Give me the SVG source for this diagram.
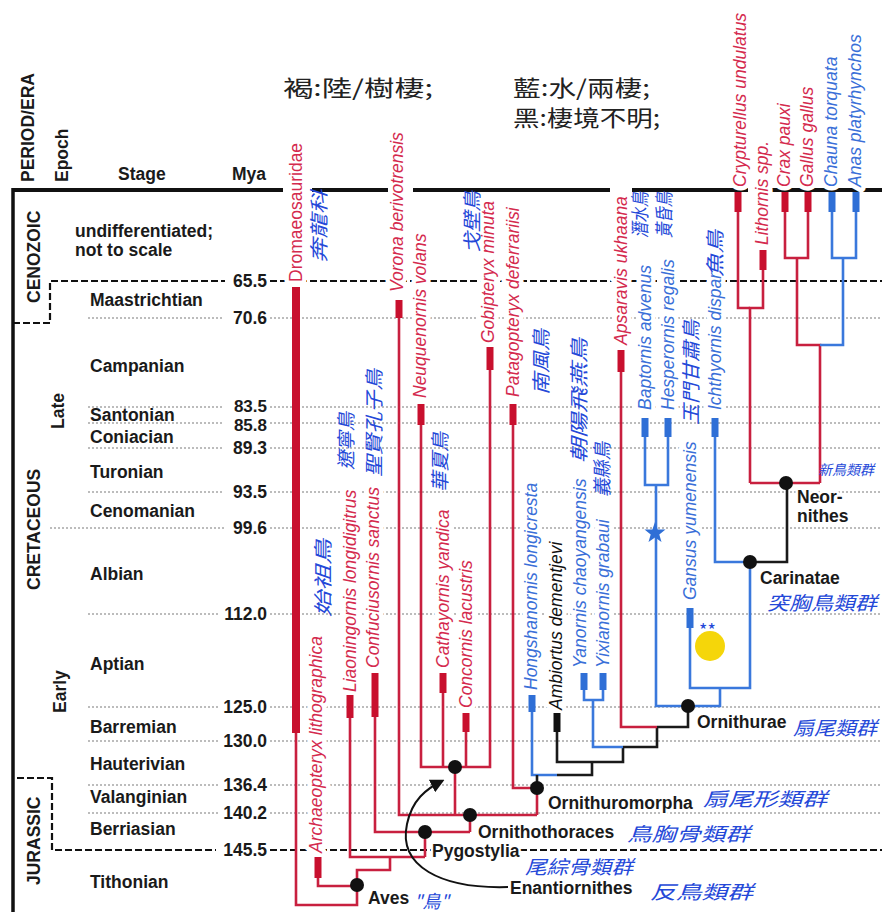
<svg xmlns="http://www.w3.org/2000/svg" width="882" height="912" viewBox="0 0 882 912">
<style>
.ax{font-family:"Liberation Sans",Arial,sans-serif;font-weight:bold;font-size:17.5px;fill:#1a1a1a}
.my{text-anchor:end}
.grid{stroke:#7a7a7a;stroke-width:1.2;stroke-dasharray:2 2;fill:none}
.bnd{stroke:#111;stroke-width:2.2;stroke-dasharray:7 3;fill:none}
.tx{font-family:"Liberation Sans",Arial,sans-serif;font-style:italic;font-size:17.5px;paint-order:stroke;stroke:#fff;stroke-width:9;stroke-linejoin:round}
.up{font-style:normal}
.r{fill:#d42a4e}
.b{fill:#3a6fd8}
.k{fill:#111}
.cn{font-family:"Noto Sans CJK TC","Noto Sans CJK SC",sans-serif;fill:#2448d8;font-size:19px;font-style:italic}
.hw{font-family:"Noto Sans CJK TC","Noto Sans CJK SC",sans-serif;fill:#222;font-size:22px}
.cl{font-family:"Liberation Sans",Arial,sans-serif;font-weight:bold;font-size:17.5px;fill:#1a1a1a;paint-order:stroke;stroke:#fff;stroke-width:5;stroke-linejoin:round}
.rl{stroke:#c8203f;stroke-width:2.6;fill:none}
.bl{stroke:#3a78dc;stroke-width:2.6;fill:none}
.kl{stroke:#1a1a1a;stroke-width:2.6;fill:none}
.rb{stroke:#c8102e;stroke-width:7}
.bb{stroke:#2f6fd6;stroke-width:7}
.kb{stroke:#111;stroke-width:7}
.nd{fill:#111}
</style>
<defs>
<marker id="ah" viewBox="0 0 10 10" refX="8" refY="5" markerWidth="7" markerHeight="7" orient="auto"><path d="M0,0 L10,5 L0,10 z" fill="#111"/></marker>
</defs>

<g id="timescale">
<line x1="13" y1="190" x2="283" y2="190" stroke="#111" stroke-width="4"/>
<line x1="312" y1="190" x2="388" y2="190" stroke="#111" stroke-width="4"/>
<line x1="413" y1="190" x2="610" y2="190" stroke="#111" stroke-width="4"/>
<line x1="632" y1="190" x2="748" y2="190" stroke="#111" stroke-width="4"/>
<line x1="772" y1="190" x2="882" y2="190" stroke="#111" stroke-width="4"/>
<line x1="13" y1="188" x2="13" y2="912" stroke="#111" stroke-width="3.5"/>
<path class="bnd" d="M13 323 H50 V281 H225"/>
<path class="bnd" d="M270 281 H882"/>
<path class="bnd" d="M17 778 H52 V850 H216"/>
<path class="bnd" d="M270 850 H882"/>
<path class="grid" d="M88 318H224 M270 318H882 M88 407H224 M270 407H882 M88 423H224 M270 423H882 M88 448H224 M270 448H882 M88 492H224 M270 492H882 M50 528H224 M270 528H882 M88 614H218 M270 614H882 M88 707H218 M270 707H882 M88 741H218 M270 741H882 M88 785H218 M270 785H882 M88 813H218 M270 813H882"/>
<text class="ax" transform="translate(34,182) rotate(-90)">PERIOD/ERA</text>
<text class="ax" transform="translate(68,182) rotate(-90)">Epoch</text>
<text class="ax" x="118" y="180">Stage</text>
<text class="ax" x="232" y="180">Mya</text>
<text class="ax" transform="translate(40,303) rotate(-90)">CENOZOIC</text>
<text class="ax" transform="translate(40,590) rotate(-90)">CRETACEOUS</text>
<text class="ax" transform="translate(40,885) rotate(-90)">JURASSIC</text>
<text class="ax" transform="translate(64,429) rotate(-90)">Late</text>
<text class="ax" transform="translate(66,713) rotate(-90)">Early</text>
<text class="ax" x="75" y="237">undifferentiated;</text>
<text class="ax" x="75" y="256">not to scale</text>
<text class="ax" x="90" y="306">Maastrichtian</text>
<text class="ax" x="90" y="372">Campanian</text>
<text class="ax" x="90" y="421">Santonian</text>
<text class="ax" x="90" y="443">Coniacian</text>
<text class="ax" x="90" y="478">Turonian</text>
<text class="ax" x="90" y="517">Cenomanian</text>
<text class="ax" x="90" y="580">Albian</text>
<text class="ax" x="90" y="670">Aptian</text>
<text class="ax" x="90" y="733">Barremian</text>
<text class="ax" x="90" y="770">Hauterivian</text>
<text class="ax" x="90" y="803">Valanginian</text>
<text class="ax" x="90" y="835">Berriasian</text>
<text class="ax" x="90" y="888">Tithonian</text>
<text class="ax my" x="267" y="287">65.5</text>
<text class="ax my" x="267" y="324">70.6</text>
<text class="ax my" x="267" y="412" style="font-size:17px">83.5</text>
<text class="ax my" x="267" y="431" style="font-size:17px">85.8</text>
<text class="ax my" x="267" y="454">89.3</text>
<text class="ax my" x="267" y="498">93.5</text>
<text class="ax my" x="267" y="534">99.6</text>
<text class="ax my" x="267" y="620">112.0</text>
<text class="ax my" x="267" y="713">125.0</text>
<text class="ax my" x="267" y="747">130.0</text>
<text class="ax my" x="267" y="791">136.4</text>
<text class="ax my" x="267" y="819">140.2</text>
<text class="ax my" x="267" y="856">145.5</text>
</g>

<g id="notes">
<text class="hw" x="283" y="96" textLength="150" lengthAdjust="spacingAndGlyphs">褐:陸/樹棲;</text>
<text class="hw" x="513" y="96" textLength="137" lengthAdjust="spacingAndGlyphs">藍:水/兩棲;</text>
<text class="hw" x="513" y="126" textLength="147" lengthAdjust="spacingAndGlyphs">黑:棲境不明;</text>
</g>

<g id="taxon-labels">
<text class="tx r up" transform="translate(302,282) rotate(-90)">Dromaeosauridae</text>
<text class="tx r" transform="translate(322,853) rotate(-90)">Archaeopteryx lithographica</text>
<text class="tx r" transform="translate(356,692) rotate(-90)">Liaoningornis longidigitrus</text>
<text class="tx r" transform="translate(379,668) rotate(-90)">Confuciusornis sanctus</text>
<text class="tx r" transform="translate(403,292) rotate(-90)">Vorona berivotrensis</text>
<text class="tx r" transform="translate(426,398) rotate(-90)">Neuquenornis volans</text>
<text class="tx r" transform="translate(449,668) rotate(-90)">Cathayornis yandica</text>
<text class="tx r" transform="translate(472,708) rotate(-90)">Concornis lacustris</text>
<text class="tx r" transform="translate(494,343) rotate(-90)">Gobipteryx minuta</text>
<text class="tx r" transform="translate(519,397) rotate(-90)">Patagopteryx deferrariisi</text>
<text class="tx b" transform="translate(537,690) rotate(-90)">Hongshanornis longicresta</text>
<text class="tx k" transform="translate(562,710) rotate(-90)">Ambiortus dementjevi</text>
<text class="tx b" transform="translate(586,668) rotate(-90)">Yanornis chaoyangensis</text>
<text class="tx b" transform="translate(609,668) rotate(-90)">Yixianornis grabaui</text>
<text class="tx r" transform="translate(627,345) rotate(-90)">Apsaravis ukhaana</text>
<text class="tx b" transform="translate(651,410) rotate(-90)">Baptornis advenus</text>
<text class="tx b" transform="translate(674,410) rotate(-90)">Hesperornis regalis</text>
<text class="tx b" transform="translate(696,600) rotate(-90)">Gansus yumenensis</text>
<text class="tx b" transform="translate(721,410) rotate(-90)">Ichthyornis dispar</text>
<text class="tx r" transform="translate(746,187) rotate(-90)">Crypturellus undulatus</text>
<text class="tx r" transform="translate(768,245) rotate(-90)">Lithornis spp.</text>
<text class="tx r" transform="translate(790,187) rotate(-90)">Crax pauxi</text>
<text class="tx r" transform="translate(813,187) rotate(-90)">Gallus gallus</text>
<text class="tx b" transform="translate(837,187) rotate(-90)">Chauna torquata</text>
<text class="tx b" transform="translate(861,187) rotate(-90)">Anas platyrhynchos</text>
</g>

<g id="connectors">
<path class="rl" d="M296 733 V905 H357 V885"/>
<path class="rl" d="M318 878 V886 H357"/>
<path class="rl" d="M357 885 V870 H390 V857"/>
<path class="rl" d="M350 718 V857 H425"/>
<path class="rl" d="M425 857 V832"/>
<path class="rl" d="M375 717 V832 H470"/>
<path class="rl" d="M470 832 V815"/>
<path class="rl" d="M399 318 V815 H537"/>
<path class="rl" d="M455 815 V767"/>
<path class="rl" d="M421 425 V767 H490 V370"/>
<path class="rl" d="M443 693 V767"/>
<path class="rl" d="M466 732 V767"/>
<path class="rl" d="M513 425 V788 H537"/>
<path class="rl" d="M537 788 V815"/>
<path class="bl" d="M532 712 V775 H557"/>
<path class="kl" d="M537 775 V788"/>
<path class="kl" d="M557 775 H592 V762"/>
<path class="kl" d="M557 732 V762 H623 V747"/>
<path class="bl" d="M584 690 V700 H603 V690"/>
<path class="bl" d="M593 700 V747 H623"/>
<path class="kl" d="M623 747 H657 V727"/>
<path class="rl" d="M621 372 V727 H657"/>
<path class="kl" d="M657 727 H688 V706"/>
<path class="bl" d="M645 437 V485 H668 V437"/>
<path class="bl" d="M656 485 V706 H720 V688"/>
<path class="bl" d="M690 628 V688 H750 V562"/>
<path class="bl" d="M715 437 V562 H750"/>
<path class="kl" d="M750 562 H787 V483"/>
<path class="rl" d="M750 483 H820"/>
<path class="rl" d="M750 483 V308 H763 V270"/>
<path class="rl" d="M738 212 V308 H750"/>
<path class="rl" d="M820 483 V345 H797 V258"/>
<path class="bl" d="M820 345 H843 V258"/>
<path class="rl" d="M785 212 V258 H808 V212"/>
<path class="bl" d="M832 212 V258 H856 V212"/>
<path d="M508 887 C440 889 398 866 407 824 C412 800 426 789 442 781" fill="none" stroke="#111" stroke-width="2" marker-end="url(#ah)"/>
</g>

<g id="bars">
<line class="rb" x1="296" y1="287" x2="296" y2="733" style="stroke-width:8"/>
<line class="rb" x1="318" y1="857" x2="318" y2="878"/>
<line class="rb" x1="350" y1="695" x2="350" y2="718"/>
<line class="rb" x1="375" y1="673" x2="375" y2="717"/>
<line class="rb" x1="399" y1="300" x2="399" y2="318"/>
<line class="rb" x1="421" y1="404" x2="421" y2="425"/>
<line class="rb" x1="443" y1="673" x2="443" y2="693"/>
<line class="rb" x1="466" y1="713" x2="466" y2="732"/>
<line class="rb" x1="490" y1="347" x2="490" y2="370"/>
<line class="rb" x1="513" y1="404" x2="513" y2="425"/>
<line class="bb" x1="532" y1="695" x2="532" y2="712"/>
<line class="kb" x1="557" y1="713" x2="557" y2="732"/>
<line class="bb" x1="584" y1="673" x2="584" y2="690"/>
<line class="bb" x1="603" y1="673" x2="603" y2="690"/>
<line class="rb" x1="621" y1="350" x2="621" y2="372"/>
<line class="bb" x1="645" y1="418" x2="645" y2="437"/>
<line class="bb" x1="668" y1="418" x2="668" y2="437"/>
<line class="bb" x1="690" y1="608" x2="690" y2="628"/>
<line class="bb" x1="715" y1="418" x2="715" y2="437"/>
<line class="rb" x1="738" y1="192" x2="738" y2="212"/>
<line class="rb" x1="763" y1="250" x2="763" y2="270"/>
<line class="rb" x1="785" y1="192" x2="785" y2="212"/>
<line class="rb" x1="808" y1="192" x2="808" y2="212"/>
<line class="bb" x1="832" y1="192" x2="832" y2="212"/>
<line class="bb" x1="856" y1="192" x2="856" y2="212"/>
</g>

<g id="node-aves"><circle class="nd" cx="357" cy="885" r="7"/><text class="cl" x="368" y="904">Aves</text></g>
<g id="node-pygostylia"><circle class="nd" cx="425" cy="832" r="7"/><text class="cl" x="432" y="857">Pygostylia</text></g>
<g id="node-ornithothoraces"><circle class="nd" cx="470" cy="815" r="7"/><text class="cl" x="478" y="838">Ornithothoraces</text></g>
<g id="node-enantiornithes"><circle class="nd" cx="455" cy="767" r="7"/><text class="cl" x="510" y="894">Enantiornithes</text></g>
<g id="node-ornithuromorpha"><circle class="nd" cx="537" cy="788" r="7"/><text class="cl" x="548" y="809">Ornithuromorpha</text></g>
<g id="node-ornithurae"><circle class="nd" cx="688" cy="706" r="7"/><text class="cl" x="697" y="728">Ornithurae</text></g>
<g id="node-carinatae"><circle class="nd" cx="750" cy="562" r="7"/><text class="cl" x="760" y="584">Carinatae</text></g>
<g id="node-neornithes"><circle class="nd" cx="786" cy="483" r="7"/><text class="cl" x="797" y="503">Neor-</text><text class="cl" x="797" y="522">nithes</text></g>

<g id="markers">
<path d="M655 522 L657.6 529.4 L665.5 529.6 L659.3 534.4 L661.5 542 L655 537.5 L648.5 542 L650.7 534.4 L644.5 529.6 L652.4 529.4 Z" fill="#2f6fd6"/>
<circle cx="710" cy="646" r="15" fill="#f5d60a"/>
<text class="cn" x="699" y="637" style="font-size:18px;font-style:normal">**</text>
</g>

<g id="annotations">
<text class="cn" transform="translate(326,263) rotate(-90)" textLength="73" lengthAdjust="spacingAndGlyphs">奔龍科</text>
<text class="cn" transform="translate(330,617) rotate(-90)" textLength="78" lengthAdjust="spacingAndGlyphs">始祖鳥</text>
<text class="cn" transform="translate(353,470) rotate(-90)" textLength="58" lengthAdjust="spacingAndGlyphs">遼寧鳥</text>
<text class="cn" transform="translate(381,477) rotate(-90)" textLength="108" lengthAdjust="spacingAndGlyphs">聖賢孔子鳥</text>
<text class="cn" transform="translate(447,492) rotate(-90)" textLength="60" lengthAdjust="spacingAndGlyphs">華夏鳥</text>
<text class="cn" transform="translate(479,253) rotate(-90)" textLength="62" lengthAdjust="spacingAndGlyphs">戈壁鳥</text>
<text class="cn" transform="translate(548,395) rotate(-90)" textLength="66" lengthAdjust="spacingAndGlyphs">南風鳥</text>
<text class="cn" transform="translate(586,463) rotate(-90)" textLength="125" lengthAdjust="spacingAndGlyphs">朝陽飛燕鳥</text>
<text class="cn" transform="translate(609,497) rotate(-90)" textLength="55" lengthAdjust="spacingAndGlyphs">義縣鳥</text>
<text class="cn" transform="translate(647,238) rotate(-90)" textLength="46" lengthAdjust="spacingAndGlyphs">潛水鳥</text>
<text class="cn" transform="translate(671,238) rotate(-90)" textLength="46" lengthAdjust="spacingAndGlyphs">黃昏鳥</text>
<text class="cn" transform="translate(698,425) rotate(-90)" textLength="105" lengthAdjust="spacingAndGlyphs">玉門甘肅鳥</text>
<text class="cn" transform="translate(722,277) rotate(-90)" textLength="47" lengthAdjust="spacingAndGlyphs">魚鳥</text>
<text class="cn" x="818" y="475" style="font-size:14px">新鳥類群</text>
<text class="cn" x="767" y="610" textLength="110" lengthAdjust="spacingAndGlyphs">突胸鳥類群</text>
<text class="cn" x="793" y="735" textLength="84" lengthAdjust="spacingAndGlyphs">扇尾類群</text>
<text class="cn" x="703" y="806" textLength="124" lengthAdjust="spacingAndGlyphs">扇尾形類群</text>
<text class="cn" x="627" y="841" textLength="123" lengthAdjust="spacingAndGlyphs">鳥胸骨類群</text>
<text class="cn" x="525" y="874" textLength="108" lengthAdjust="spacingAndGlyphs">尾綜骨類群</text>
<text class="cn" x="650" y="899" textLength="103" lengthAdjust="spacingAndGlyphs">反鳥類群</text>
<text class="cn" x="414" y="908" style="font-size:18px">"鳥"</text>
</g>
</svg>
